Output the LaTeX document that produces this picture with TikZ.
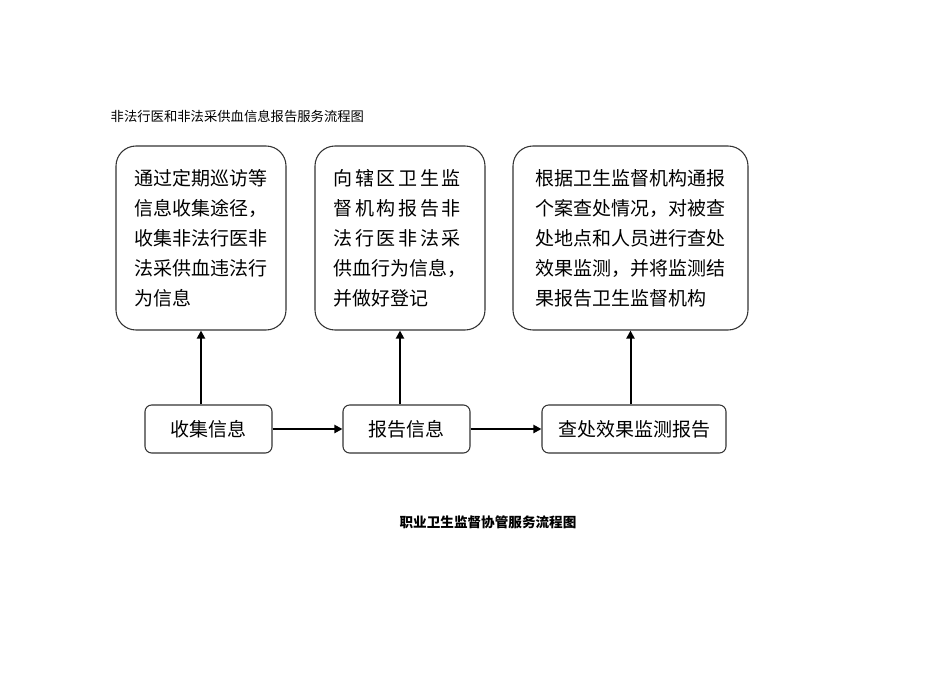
\documentclass[tikz,border=0pt]{standalone}
\usepackage{fontspec}
\setmainfont{Noto Sans CJK SC}
\usetikzlibrary{arrows.meta}
\newcommand\trackline[1]{{\addfontfeature{LetterSpace=14}#1}}
\begin{document}
\begin{tikzpicture}[x=0.75pt,y=-0.75pt,
  bigbox/.style={draw=black!80,line width=0.8pt,rounded corners=15pt,minimum height=138pt,align=left,font=\fontsize{14.25}{22.5}\selectfont},
  smallbox/.style={draw=black!80,line width=0.8pt,rounded corners=5pt,minimum height=36pt,font=\fontsize{14.25}{17}\selectfont},
  link/.style={line width=1.5pt,-{Triangle[length=6pt,width=6pt]}}]
\useasboundingbox (0,0) rectangle (950,672);

\node[anchor=west,font=\fontsize{10}{12}\selectfont] (title) at (106,116) {非法行医和非法采供血信息报告服务流程图};

\node[bigbox,minimum width=127.5pt] (collect) at (201,238) {通过定期巡访等\\信息收集途径，\\收集非法行医非\\法采供血违法行\\为信息};
\node[bigbox,minimum width=127.5pt] (report) at (400,238) {\trackline{向辖区卫生监}\\\trackline{督机构报告非}\\\trackline{法行医非法采}\\供血行为信息，\\并做好登记};
\node[bigbox,minimum width=176.25pt] (check) at (630.5,238) {根据卫生监督机构通报\\个案查处情况，对被查\\处地点和人员进行查处\\效果监测，并将监测结\\果报告卫生监督机构};

\node[smallbox,minimum width=95.25pt] (a) at (208.5,429) {收集信息};
\node[smallbox,minimum width=95.25pt] (b) at (406.5,429) {报告信息};
\node[smallbox,minimum width=138pt] (c) at (634,429) {查处效果监测报告};

\draw[link] (a.north -| collect.south) -- (collect.south);
\draw[link] (b.north -| report.south) -- (report.south);
\draw[link] (c.north -| check.south) -- (check.south);
\draw[link] (a) -- (b);
\draw[link] (b) -- (c);

\node[font=\bfseries\fontsize{10.2}{12}\selectfont] (subtitle) at (488,522) {职业卫生监督协管服务流程图};
\end{tikzpicture}
\end{document}
